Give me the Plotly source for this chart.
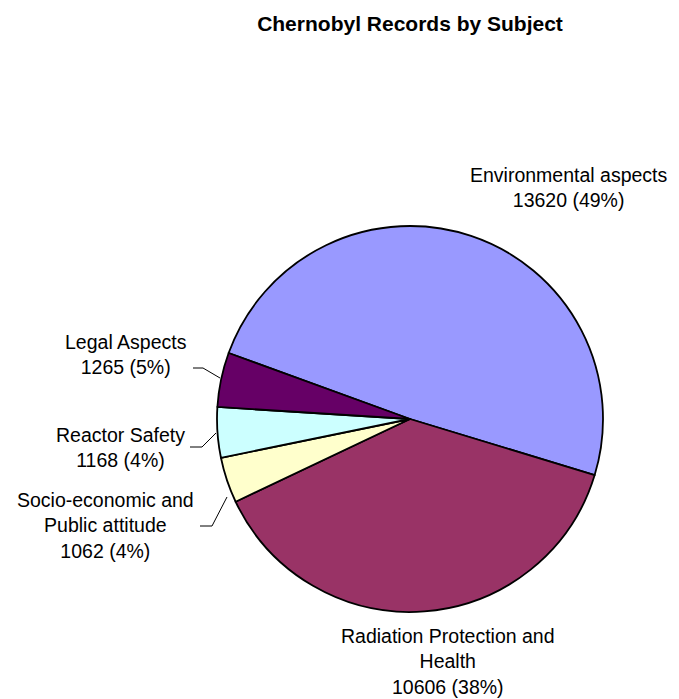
import plotly.graph_objects as go

labels = ["Environmental aspects", "Radiation Protection and<br>Health",
          "Socio-economic and<br>Public attitude", "Reactor Safety", "Legal Aspects"]
values = [13620, 10606, 1062, 1168, 1265]
colors = ["#9999FF", "#993366", "#FFFFCC", "#CCFFFF", "#660066"]

W, H = 679, 699
total = sum(values)

def px(x): return x / W
def py(y): return 1 - y / H

cx, cy, r = 410, 419, 193

fig = go.Figure(go.Pie(
    labels=labels, values=values, sort=False, direction="clockwise", rotation=290,
    marker=dict(colors=colors, line=dict(color="black", width=1.8)),
    textinfo="none", hoverinfo="label+value+percent", showlegend=False,
    domain=dict(x=[px(cx - r), px(cx + r)], y=[py(cy + r), py(cy - r)]),
))

# label centres (pixel positions)
label_pos = [(569, 187), (448, 661), (105, 525), (120, 447), (126, 354)]
font = dict(family="Liberation Sans, Arial, sans-serif", size=19.5, color="black")
for lab, v, (x, y) in zip(labels, values, label_pos):
    pct = round(100 * v / total)
    fig.add_annotation(x=px(x), y=py(y), xref="paper", yref="paper",
                       text=f"{lab}<br>{v} ({pct}%)", showarrow=False,
                       xanchor="center", yanchor="middle", align="center", font=font)

# leader lines
leaders = [
    [(193, 368), (203, 368), (220, 378)],
    [(190, 447), (202, 447), (216, 433)],
    [(200, 526), (212, 526), (227, 497)],
]
for pts in leaders:
    path = "M " + " L ".join(f"{px(x)},{py(y)}" for x, y in pts)
    fig.add_shape(type="path", path=path, xref="paper", yref="paper",
                  line=dict(color="black", width=1))

fig.update_layout(
    width=W, height=H, margin=dict(l=0, r=0, t=0, b=0),
    paper_bgcolor="white", plot_bgcolor="white",
    title=dict(text="<b>Chernobyl Records by Subject</b>", x=px(410), y=py(24),
               xanchor="center", yanchor="middle",
               font=dict(family="Liberation Sans, Arial, sans-serif", size=21, color="black")),
)
fig.write_html("out.html")
